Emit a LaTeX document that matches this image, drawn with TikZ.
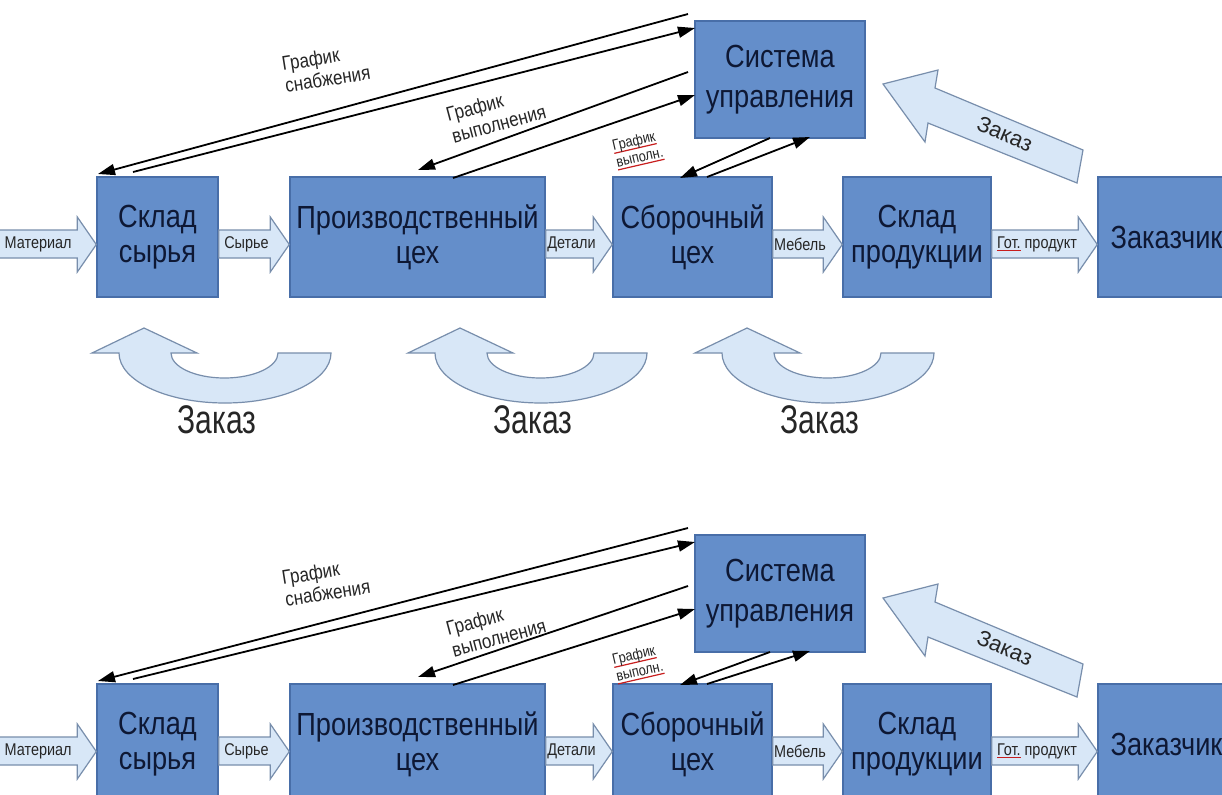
\documentclass[tikz,border=0pt]{standalone}
\usepackage{fontspec}
\setmainfont{Liberation Sans}
\newfontfamily\nf[FakeStretch=0.85]{Liberation Sans}
\newfontfamily\nfn[FakeStretch=0.75]{Liberation Sans}
\usetikzlibrary{arrows.meta,calc}
\definecolor{boxfill}{RGB}{100,142,202}
\definecolor{boxdraw}{RGB}{72,110,168}
\definecolor{boxtext}{RGB}{14,24,52}
\definecolor{arrfill}{RGB}{216,231,247}
\definecolor{arrdraw}{RGB}{120,142,172}
\definecolor{spellred}{RGB}{200,30,30}
\newcommand\redul[1]{\setbox0\hbox{#1}\rlap{\color{spellred}\rule[-1.6pt]{\wd0}{0.6pt}}\box0\relax}
% block arrow from anchor #1 to anchor #2, label #3, label name #4
\newcommand\blockarr[4]{%
  \draw[barrow] ($(#1)+(0,-7)$) -- ($(#2)+(-19,-7)$) -- ($(#2)+(-19,-20)$)
    -- ($(#2)+(0,7.5)$) -- ($(#2)+(-19,35)$) -- ($(#2)+(-19,21)$)
    -- ($(#1)+(0,21)$) -- cycle;
  \node[smalllbl] (#4) at ($(#1)!0.5!($(#2)+(-19,0)$)+(2,7)$) {#3};}
\newcommand\uarrow[1]{%
  \draw[barrow] (#1,353) -- ++(52,-25) -- ++(53,25) -- ++(-26,0)
    arc[start angle=180,end angle=0,x radius=53.5,y radius=25] -- ++(53,0)
    arc[start angle=0,end angle=180,x radius=106,y radius=50] -- cycle;}
\newcommand\panel[1]{%
  \node[box, minimum width=60.5pt, minimum height=60pt] (ss) at (157.5,237) {Склад\\сырья};
  \node[box, minimum width=127.5pt, minimum height=60pt] (pc) at (417.5,237) {Производственный\\цех};
  \node[box, minimum width=79.5pt, minimum height=60pt] (sc) at (692.5,237) {Сборочный\\цех};
  \node[box, minimum width=74pt, minimum height=60pt] (sp) at (917,237) {Склад\\продукции};
  \node[box, minimum width=68.5pt, minimum height=60pt] (zk) at (1166.5,237) {Заказчик};
  \coordinate (src) at (-5,237);
  \blockarr{src}{ss.west}{Материал}{lm}
  \blockarr{ss.east}{pc.west}{Сырье}{ls}
  \blockarr{pc.east}{sc.west}{Детали}{ld}
  \blockarr{sc.east}{sp.west}{Мебель}{lb}
  \blockarr{sp.east}{zk.west}{\redul{Гот.}~продукт}{lg}
  \coordinate (s1e) at (98,174);
  \coordinate (s2) at (133,172);
  \coordinate (v1e) at (418,170);
  \coordinate (v2) at (453,178);
  \coordinate (k1e) at (680,178);
  \coordinate (k2) at (707,177);
  \begin{scope}[shift={(0,#1)}]
    \node[box, minimum width=85pt, minimum height=58.5pt, font=\nf\fontsize{16}{20}\selectfont] (su) at (780,79.5) {Система\\управления};
    \coordinate (s1) at (688,14);
    \coordinate (s2e) at (695,28);
    \coordinate (v1) at (688,72);
    \coordinate (v2e) at (695,95);
    \coordinate (k1) at (770,138);
    \coordinate (k2e) at (810,137);
    \node[diaglbl, rotate=9] (gs) at (326,68) {График\\снабжения};
    \node[diaglbl, rotate=15] (gv) at (496,113) {График\\выполнения};
    \node[diaglbl, rotate=13, font=\nf\fontsize{7.5}{8.5}\selectfont] (gk) at (638,150) {\redul{График}\\\redul{выполн.}};
    \draw[barrow] (883,84) -- (938,70) -- (935,88) -- (1083,150) -- (1077,183)
      -- (928,123) -- (925,142) -- cycle;
    \node[font=\fontsize{11}{12}\selectfont, text=black!85, rotate=-23, inner sep=0pt] (zz) at (1005,134) {Заказ};
  \end{scope}
  \draw[diag] (s1) -- (s1e);
  \draw[diag] (s2) -- (s2e);
  \draw[diag] (v1) -- (v1e);
  \draw[diag] (v2) -- (v2e);
  \draw[diag] (k1) -- (k1e);
  \draw[diag] (k2) -- (k2e);
}
\begin{document}
\begin{tikzpicture}[x=0.5pt,y=-0.5pt,
  box/.style={draw=boxdraw, fill=boxfill, line width=0.7pt, text=boxtext,
    font=\nf\fontsize{16}{17.5}\selectfont, align=center, inner sep=0pt},
  barrow/.style={draw=arrdraw, fill=arrfill, line width=0.6pt},
  smalllbl/.style={font=\nf\fontsize{8.5}{9}\selectfont, text=black!85, inner sep=0pt},
  diag/.style={line width=0.9pt, -{Triangle[length=8.5pt,width=5.5pt]}},
  diaglbl/.style={font=\nf\fontsize{10}{11}\selectfont, text=black!85, align=left, inner sep=0pt},
  zakaz/.style={font=\nfn\fontsize{20}{22}\selectfont, text=black!85, inner sep=0pt}]
\useasboundingbox (0,0) rectangle (1222,794);
\fill[white] (0,0) rectangle (1222,794);
\clip (0,0) rectangle (1222,794);
\begin{scope}[name prefix=t-]
  \panel{0}
  \uarrow{92}
  \uarrow{408}
  \uarrow{695}
  \node[zakaz] (z1) at (217,420) {Заказ};
  \node[zakaz] (z2) at (533,420) {Заказ};
  \node[zakaz] (z3) at (820,420) {Заказ};
\end{scope}
\begin{scope}[shift={(0,507)}, name prefix=b-]
  \panel{7}
\end{scope}
\end{tikzpicture}
\end{document}
